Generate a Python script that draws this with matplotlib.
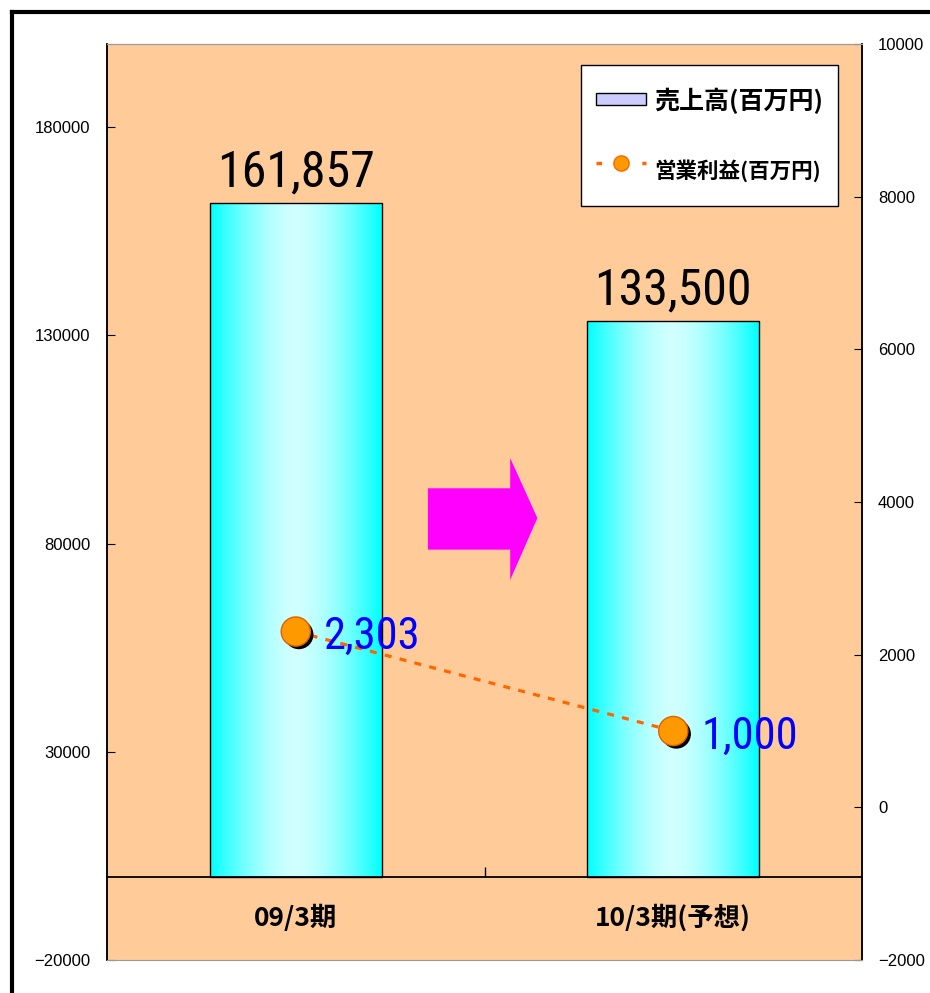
import numpy as np
import matplotlib
matplotlib.use("Agg")
import matplotlib.pyplot as plt
import matplotlib.patheffects as pe
from matplotlib import font_manager
from matplotlib.font_manager import FontProperties
from matplotlib.legend_handler import HandlerPatch
from matplotlib.lines import Line2D
from matplotlib.patches import Patch, Polygon, Rectangle

# data
categories = ['09/3期', '10/3期(予想)']
sales = [161857, 133500]          # 売上高(百万円), left axis
op_profit = [2303, 1000]          # 営業利益(百万円), right axis
legend_labels = ['売上高(百万円)', '営業利益(百万円)']
left_ticks = [-20000, 30000, 80000, 130000, 180000]
right_ticks = [-2000, 0, 2000, 4000, 6000, 8000, 10000]

jp = ['Noto Sans CJK JP', 'DejaVu Sans']

# look for a narrow face for the big numbers (reference uses a tall, narrow gothic)
cands = [('Liberation Sans Narrow', None), ('Roboto Condensed', None), ('Open Sans Condensed', None),
         ('Noto Sans', 'condensed'), ('Noto Sans', 'semi-condensed'), ('Roboto', 'condensed'),
         ('Open Sans', 'condensed'), ('DejaVu Sans', 'condensed'), ('Noto Sans', 'extra-condensed')]
numfont = ('Liberation Sans', 'normal')
for name, st in cands:
    hit = [f for f in font_manager.fontManager.ttflist
           if f.name == name and (st is None or str(f.stretch) == st)]
    if hit:
        numfont = (name, st or 'normal')
        break


def numprop(size):
    return FontProperties(family=numfont[0], stretch=numfont[1], size=size)


def thin_swatch(legend, orig_handle, xdescent, ydescent, width, height, fontsize):
    # flat swatch centred in a tall legend row
    h = height * 0.27
    return Rectangle((-xdescent, -ydescent + (height - h) / 2 + 2), width, h)


bg = '#FFCC99'
fig = plt.figure(figsize=(9.3, 9.93), dpi=100)
ax = fig.add_axes([0.1151, 0.0332, 0.8118, 0.9225])
ax.set_facecolor(bg)
ax.spines['bottom'].set_position(('data', 0))
x = np.arange(len(categories))

# bars with horizontal cyan gradient
bars = ax.bar(x, sales, width=0.455, color='none', edgecolor='black', linewidth=1, zorder=3)
t = np.linspace(0, 1, 256)
light = 1 - np.abs(2 * t - 1) ** 1.6
grad = np.zeros((1, 256, 3))
grad[..., 0] = 0.82 * light
grad[..., 1] = 1
grad[..., 2] = 1
for b in bars:
    bx, by, bw, bh = b.get_x(), b.get_y(), b.get_width(), b.get_height()
    im = ax.imshow(grad, extent=[bx, bx + bw, by, by + bh], aspect='auto', zorder=2)
    im.set_clip_path(b)
for xi, v in zip(x, sales):
    ax.annotate(f'{v:,}', (xi, v), xytext=(0, 11.5), textcoords='offset points',
                ha='center', va='baseline', fontproperties=numprop(36), zorder=5)

ax.set_xlim(-0.5, 1.5)
ax.set_ylim(-20000, 200000)
ax.set_yticks(left_ticks)
ax.set_yticklabels([str(v).replace('-', '\u2212') for v in left_ticks], family='Liberation Sans')
ax.tick_params(axis='y', direction='in', length=6, labelsize=12, pad=12)
ax.set_xticks(x)
ax.set_xticklabels(categories, family=jp, fontsize=19, fontweight='bold')
ax.set_xticks([0.5], minor=True)
ax.tick_params(axis='x', which='major', length=0, pad=20)
ax.tick_params(axis='x', which='minor', direction='in', length=7, width=1, color='black')
ax.spines['bottom'].set_linewidth(1.3)
ax.spines['top'].set_color('#999999')
for s in ['left', 'right']:
    ax.spines[s].set_linewidth(1.1)

# magenta arrow between the bars
arrow = Polygon([(0.425, 0.448), (0.534, 0.448), (0.534, 0.415), (0.570, 0.4825),
                 (0.534, 0.548), (0.534, 0.515), (0.425, 0.515)],
                closed=True, transform=ax.transAxes, facecolor='#FF00FF', edgecolor='none', zorder=4)
ax.add_patch(arrow)

# operating profit on the right axis
ax2 = ax.twinx()
ax2.set_ylim(-2000, 10000)
ax2.set_yticks(right_ticks)
ax2.set_yticklabels([str(v).replace('-', '\u2212') for v in right_ticks], family='Liberation Sans')
ax2.tick_params(axis='y', direction='in', length=6, labelsize=12, pad=11.5)
ax2.spines['top'].set_color('#999999')
ax2.spines['bottom'].set_color('#999999')
for s in ['left', 'right']:
    ax2.spines[s].set_linewidth(1.1)
ax2.plot(x, op_profit, color='#FF6600', lw=2.3, dashes=(2.2, 2.6), zorder=3)
ax2.plot(x, op_profit, ls='none', marker='o', ms=21, mfc='#FF9900', mec='#E06000', mew=1,
         zorder=4, path_effects=[pe.SimplePatchShadow(offset=(2.2, -2.2), shadow_rgbFace='black', alpha=1),
                                 pe.Normal()])
for xi, v in zip(x, op_profit):
    ax2.annotate(f'{v:,}', (xi, v), xytext=(20, -12.5), textcoords='offset points',
                 ha='left', va='baseline', color='#0000FF', fontproperties=numprop(32), zorder=6)

swatch = Patch(facecolor='#CCCCFF', edgecolor='black', linewidth=1)
handles = [swatch,
           Line2D([], [], color='#FF6600', lw=2.5, dashes=(1.6, 5.0), marker='o', ms=11,
                  mfc='#FF9900', mec='#FF6600')]
leg = ax2.legend(handles, legend_labels, loc='upper right', bbox_to_anchor=(0.968, 0.977),
                 borderaxespad=0, prop={'family': jp, 'size': 18, 'weight': 'bold'}, frameon=True,
                 fancybox=False, edgecolor='black', framealpha=1, handlelength=2.0, handleheight=2.27,
                 handletextpad=0.3, labelspacing=1.0, borderpad=0.6,
                 handler_map={swatch: HandlerPatch(patch_func=thin_swatch)})
leg.get_frame().set_linewidth(1)
leg.get_texts()[1].set_fontsize(15.5)

# outer black frame lines at top and left
fig.add_artist(Line2D([0.0129, 1], [0.988, 0.988], transform=fig.transFigure, color='black', lw=3))
fig.add_artist(Line2D([0.0129, 0.0129], [0, 0.988], transform=fig.transFigure, color='black', lw=3))

fig.savefig('out.png', dpi=100)
